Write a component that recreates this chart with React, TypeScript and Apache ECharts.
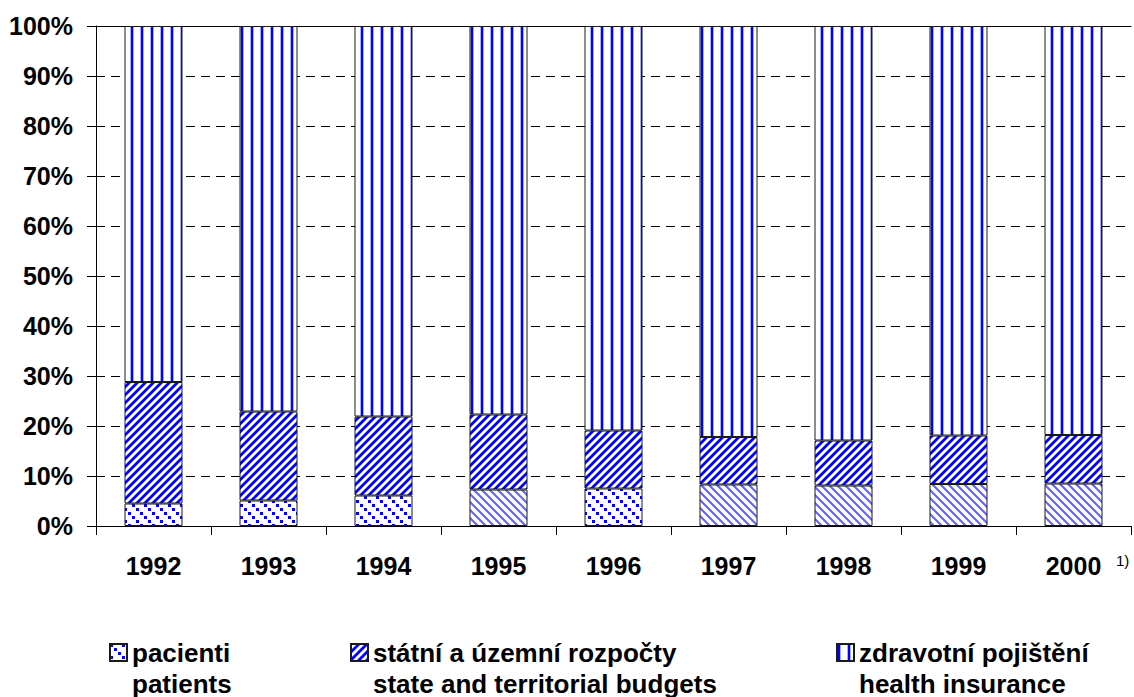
import React, { useEffect, useRef } from 'react';
import * as echarts from 'echarts';

const years = ['1992', '1993', '1994', '1995', '1996', '1997', '1998', '1999', '2000'];
const pacienti = [4.5, 5.1, 6.1, 7.3, 7.5, 8.3, 8.1, 8.4, 8.5];
const rozpocty = [24.3, 17.8, 15.8, 15.0, 11.6, 9.5, 9.0, 9.7, 9.7];
const pojisteni = [71.2, 77.1, 78.1, 77.7, 80.9, 82.2, 82.9, 81.9, 81.8];
const namesCz = ['pacienti', 'státní a územní rozpočty', 'zdravotní pojištění'];
const namesEn = ['patients', 'state and territorial budgets', 'health insurance'];
const lightHatchYears = ['1995', '1997', '1998', '1999', '2000'];
const footnote = '1)';

const FONT = '"Liberation Sans", Arial, Helvetica, sans-serif';

function tile(w: number, h: number, draw: (ctx: CanvasRenderingContext2D) => void) {
  const c = document.createElement('canvas');
  c.width = w;
  c.height = h;
  const ctx = c.getContext('2d') as CanvasRenderingContext2D;
  ctx.fillStyle = '#ffffff';
  ctx.fillRect(0, 0, w, h);
  draw(ctx);
  return { image: c, repeat: 'repeat', imageWidth: w, imageHeight: h } as any;
}

function segs(ctx: CanvasRenderingContext2D, list: number[][]) {
  ctx.beginPath();
  list.forEach(([a, b, c, d]) => {
    ctx.moveTo(a, b);
    ctx.lineTo(c, d);
  });
  ctx.stroke();
}

export default function App() {
  const ref = useRef<HTMLDivElement>(null);

  useEffect(() => {
    if (!ref.current) return;
    const chart = echarts.init(ref.current, null, { renderer: 'svg' });

    const vertical = tile(10, 10, (ctx) => {
      ctx.fillStyle = '#a9b0ff';
      ctx.fillRect(0, 0, 1, 10);
      ctx.fillRect(3, 0, 1, 10);
      ctx.fillStyle = '#0000ff';
      ctx.fillRect(1, 0, 2, 10);
    });
    const forward = tile(8, 8, (ctx) => {
      ctx.strokeStyle = '#0000ff';
      ctx.lineWidth = 2.8;
      segs(ctx, [[-2, 10, 10, -2], [-2, 2, 2, -2], [6, 10, 10, 6]]);
    });
    const dots = tile(12, 12, (ctx) => {
      ctx.fillStyle = '#0000ff';
      ctx.fillRect(0, 0, 3, 3);
      ctx.fillRect(4, 4, 3, 3);
      ctx.fillRect(8, 8, 3, 3);
    });
    const lightBack = tile(8, 8, (ctx) => {
      ctx.strokeStyle = '#6464ff';
      ctx.lineWidth = 2.1;
      segs(ctx, [[-2, -2, 10, 10], [-2, 6, 2, 10], [6, -2, 10, 2]]);
    });

    const border = { borderColor: '#1a1a1a', borderWidth: 1 };

    const legendBase = (name: string, left: number) => ({
      data: [name],
      left,
      top: 606,
      orient: 'horizontal',
      padding: 0,
      icon: 'rect',
      itemWidth: 17,
      itemHeight: 17,
      itemGap: 0,
      selectedMode: false,
      formatter: (n: string) => '\n' + n + '\n' + namesEn[namesCz.indexOf(n)],
      textStyle: {
        fontFamily: FONT,
        fontSize: 26,
        fontWeight: 'bold',
        color: '#000',
        lineHeight: 31,
      },
    });

    chart.setOption({
      animation: false,
      backgroundColor: '#ffffff',
      grid: { left: 96, right: 3, top: 26, bottom: 171, containLabel: false, outerBoundsMode: 'none' },
      legend: [
        legendBase(namesCz[0], 109),
        legendBase(namesCz[1], 350),
        legendBase(namesCz[2], 836),
      ],
      xAxis: [
        {
          type: 'category',
          data: years,
          axisLine: { show: true, lineStyle: { color: '#000', width: 1 } },
          axisTick: { show: true, length: 9, lineStyle: { color: '#000' } },
          axisLabel: {
            margin: 27,
            fontFamily: FONT,
            fontSize: 25,
            fontWeight: 'bold',
            color: '#000',
          },
          splitLine: { show: false },
        },
        {
          type: 'category',
          data: years,
          position: 'top',
          axisLine: { show: true, lineStyle: { color: '#000', width: 1 } },
          axisTick: { show: false },
          axisLabel: { show: false },
          splitLine: { show: false },
        },
      ],
      yAxis: {
        type: 'value',
        min: 0,
        max: 100,
        interval: 10,
        axisLine: { show: true, lineStyle: { color: '#000', width: 1 } },
        axisTick: { show: true, length: 9, lineStyle: { color: '#000' } },
        axisLabel: {
          margin: 23,
          formatter: '{value}%',
          fontFamily: FONT,
          fontSize: 25,
          fontWeight: 'bold',
          color: '#000',
        },
        splitLine: { show: true, lineStyle: { color: '#000', width: 1, type: [9, 6] } },
      },
      series: [
        {
          name: namesCz[0],
          type: 'bar',
          stack: 'total',
          barWidth: 58,
          itemStyle: { color: dots, ...border },
          emphasis: { disabled: true },
          data: pacienti.map((v, i) =>
            lightHatchYears.includes(years[i]) ? { value: v, itemStyle: { color: lightBack } } : v
          ),
        },
        {
          name: namesCz[1],
          type: 'bar',
          stack: 'total',
          barWidth: 58,
          itemStyle: { color: forward, ...border },
          emphasis: { disabled: true },
          data: rozpocty,
        },
        {
          name: namesCz[2],
          type: 'bar',
          stack: 'total',
          barWidth: 58,
          itemStyle: { color: vertical, ...border },
          emphasis: { disabled: true },
          data: pojisteni,
        },
      ],
      graphic: [
        {
          type: 'text',
          left: 1116,
          top: 553,
          style: { text: footnote, fontFamily: FONT, fontSize: 15, fill: '#000' },
        },
      ],
    });

    return () => chart.dispose();
  }, []);

  return (
    <div
      ref={ref}
      style={{ position: 'fixed', left: 0, top: 0, width: 1134, height: 697 }}
    />
  );
}
